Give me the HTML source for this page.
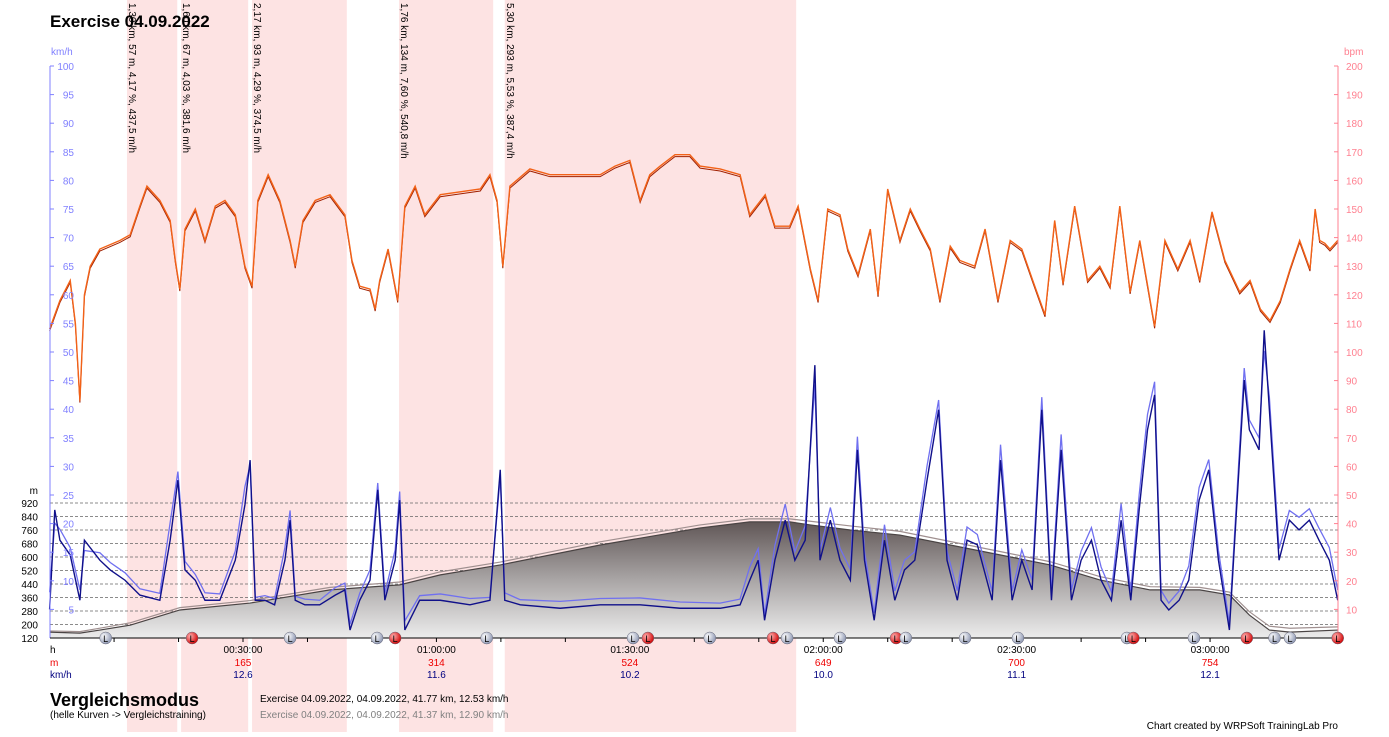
<!DOCTYPE html>
<html><head><meta charset="utf-8">
<style>
body{margin:0;background:#fff;font-family:"Liberation Sans",sans-serif;}
svg text{font-family:"Liberation Sans",sans-serif;}
</style></head>
<body>
<svg id="chart" width="1389" height="732" xmlns="http://www.w3.org/2000/svg">
<defs>
<linearGradient id="altg" x1="0" y1="520" x2="0" y2="638" gradientUnits="userSpaceOnUse">
<stop offset="0" stop-color="#5e5454"/><stop offset="0.5" stop-color="#a8a4a4"/><stop offset="1" stop-color="#ececec"/>
</linearGradient>
<radialGradient id="lapg" cx="0.35" cy="0.35" r="0.7"><stop offset="0" stop-color="#fff"/><stop offset="1" stop-color="#8a94b0"/></radialGradient>
<radialGradient id="lapr" cx="0.35" cy="0.35" r="0.7"><stop offset="0" stop-color="#ffb0b0"/><stop offset="1" stop-color="#d00000"/></radialGradient>
</defs>
<g id="bands"></g>
<g id="grid"></g>
<g id="alt"></g>
<g id="speed"></g>
<g id="hr"></g>
<g id="axes"></g>
<g id="laps"></g>
<g id="labels"></g>
<text x="50" y="27" font-size="17" font-weight="bold">Exercise 04.09.2022</text>
<text x="50" y="706" font-size="18" font-weight="bold">Vergleichsmodus</text>
<text x="50" y="718" font-size="10">(helle Kurven -&gt; Vergleichstraining)</text>
<text x="260" y="702" font-size="10">Exercise 04.09.2022,  04.09.2022, 41.77 km, 12.53 km/h</text>
<text x="260" y="718" font-size="10" fill="#808080">Exercise 04.09.2022,  04.09.2022, 41.37 km, 12.90 km/h</text>
<text x="1338" y="729" font-size="10" text-anchor="end">Chart created by WRPSoft TrainingLab Pro</text>
</svg>
<script>
// ---- data ----
const hrTime=[0,1.6,3.2,4.0,4.7,5.4,6.3,7.8,10.9,12.5,14,15.1,17.1,18.7,19.5,20.2,21,22.6,24.1,25.7,27.2,28.8,30.3,31.4,32.3,33.9,35.7,37.3,38.1,39.3,41.2,43.5,45.8,46.9,48.1,49.7,50.5,51.2,52.5,54,55.1,56.7,58.2,60.6,63.7,66.8,68.3,69.4,70.3,71.4,74.5,77.6,82.3,85.4,87.7,90,91.6,93.1,94.7,97,99.3,100.9,104,107.1,108.6,111,112.5,114.8,116.1,118,119.2,120.7,122.6,123.8,125.4,127.3,128.5,130,131.9,133.5,135,136.6,138.1,139.7,141.2,143.5,145.1,147.1,149,150.8,152.5,154.4,155.9,157.2,159,161,162.9,164.5,166,167.6,169.1,171.4,173,175,176.9,178.4,180.3,182.3,184.6,186.2,187.8,189.3,190.9,192.4,193.9,195.5,196.3,197,197.8,198.6,199.8];
const hrBpm=[108,118,125,110,83,120,130,136,139,141,151,158,153,146,132,122,143,150,139,151,153,148,130,123,153,162,153,139,130,146,153,155,148,132,123,122,115,125,136,118,151,158,148,155,156,157,162,153,130,158,164,162,162,162,165,167,153,162,165,169,169,165,164,162,148,155,144,144,151,129,118,150,148,136,127,143,120,157,139,150,143,136,118,137,132,130,143,118,139,136,125,113,146,124,151,125,130,123,151,121,139,109,139,129,139,125,149,132,121,125,115,111,118,129,139,129,150,139,138,136,139];
const spTime=[0,0.8,1.6,3.2,4.7,5.4,7.8,9.4,11.7,14,17.1,18.7,19.9,21,22.6,24.1,26.4,28.8,30.3,31.1,31.9,33.4,34.9,36.5,37.3,38.1,39.6,41.9,44.3,45.8,46.6,48.1,49.7,50.9,52,53.6,54.3,55.1,57.4,60.6,65.2,68.3,69.9,70.6,73,79.2,85.4,91.6,97.8,104,107.1,108.6,109.9,110.9,112.5,114.1,115.6,117.2,118.7,119.5,121.1,122.6,124.2,125.3,126.4,127.9,129.5,131.1,132.6,134.2,136.1,137.9,139.2,140.8,142.3,143.9,146.2,147.5,149.3,150.8,152.4,153.9,155.4,156.9,158.5,160,161.6,163.1,164.7,166.2,167.7,169,170.3,171.4,172.4,173.6,175.2,176.7,178.3,179.8,181.3,183,185.3,186.1,187.6,188.4,189.2,190.7,192.3,193.8,195.4,196.9,198.5,199.8];
const spKmh=[5,22.4,17.1,14.5,6.6,17.1,13.6,11.9,10.1,7.5,6.6,17.1,27.6,11.9,10.1,6.6,6.6,13.6,23.3,31.1,6.6,6.6,5.8,13.6,20.6,6.6,5.8,5.8,7.5,8.4,1.4,6.6,10.1,25.9,6.6,13.6,24.1,1.4,6.6,6.6,5.8,6.6,29.4,6.6,5.8,5.2,5.8,5.8,5.2,5.2,5.8,10.1,13.6,3.1,13.6,20.6,13.6,17.1,47.7,13.6,20.6,13.6,10.1,32.9,13.6,3.1,17.1,6.6,11.9,13.6,27.6,39.9,13.6,6.6,17.1,16.3,6.6,31.1,6.6,13.6,8.4,39.9,6.6,32.9,6.6,13.6,17.1,10.1,6.6,20.6,6.6,22.4,36.4,42.5,6.6,4.9,6.6,10.1,24.1,29.4,13.6,1.4,45.1,36.4,32.9,53.8,39.9,13.6,20.6,18.9,20.6,17.1,13.6,6.6];
const spCmpKmh=[8,20.1,19.0,15.8,8.4,15.3,14.9,13.2,11.4,8.6,7.8,20.2,29.1,13.4,11.1,7.9,7.7,15.2,26.5,30.2,7.1,7.4,6.9,15.8,22.3,7.3,6.8,6.6,8.8,9.6,2.4,7.8,11.9,27.1,7.8,15.4,25.6,3.0,7.4,7.7,6.9,7.1,28.2,7.9,6.7,6.4,6.9,7.0,6.3,6.1,6.8,12.4,15.6,4.1,16.2,23.4,15.1,19.6,44.3,15.3,22.8,15.7,12.0,35.2,15.1,4.4,19.8,8.2,13.6,15.1,30.1,41.6,15.2,8.3,19.4,18.1,8.1,33.8,8.2,15.4,10.1,42.1,8.0,35.6,8.4,15.2,19.3,12.4,8.1,23.5,8.2,25.0,39.1,44.8,8.3,6.1,8.2,12.6,26.3,31.2,15.3,2.6,47.2,38.1,35.0,50.2,42.1,15.6,22.3,21.1,22.6,19.2,15.8,8.4];
const altTime=[0,4.7,7.8,12.5,20.2,31.1,43.5,54.3,60.6,69.9,85.4,100.9,108.6,114.8,118,124.2,131.9,139.7,147.5,155.2,162.9,170.7,178.4,183,186.1,189.2,192.4,199.8];
const altM=[155,149,167,196,286,327,405,435,494,553,671,772,808,808,790,760,730,671,612,553,464,405,405,375,256,167,155,167];
const altCmpM=[162,158,178,210,300,342,420,452,512,570,690,790,826,826,812,784,752,692,632,572,484,424,420,392,276,190,178,186];
const altTicks=[120,200,280,360,440,520,600,680,760,840,920];
const kmhTicks=[5,10,15,20,25,30,35,40,45,50,55,60,65,70,75,80,85,90,95,100];
const bpmTicks=[10,20,30,40,50,60,70,80,90,100,110,120,130,140,150,160,170,180,190,200];
const timeTicks=[30,60,90,120,150,180];
const timeLabels=["00:30:00","01:00:00","01:30:00","02:00:00","02:30:00","03:00:00"];
const altAtTick=["165","314","524","649","700","754"];
const spdAtTick=["12.6","11.6","10.2","10.0","11.1","12.1"];
const bandStart=[12.0,20.4,31.4,54.2,70.6];
const bandEnd=[19.8,30.8,46.1,68.8,115.8];
const bandText=["1,30 km, 57 m, 4,17 %, 437,5 m/h","1,60 km, 67 m, 4,03 %, 381,6 m/h","2,17 km, 93 m, 4,29 %, 374,5 m/h","1,76 km, 134 m, 7,60 %, 540,8 m/h","5,30 km, 293 m, 5,53 %, 387,4 m/h"];
const lapTime=[8.7,22.1,37.3,50.8,53.6,67.8,90.5,92.8,102.4,112.2,114.4,122.6,131.3,132.8,142,150.2,167.1,168.1,177.5,185.7,190,192.4,199.8];
const lapRed=[0,1,0,0,1,0,0,1,0,1,0,0,1,0,0,0,0,1,0,1,0,0,1];
// ---- scales ----
const X0=49.6,XPM=6.447,YB=638;
const xs=t=>X0+t*XPM;
const yK=v=>YB-v*5.72;
const yB=v=>YB-v*2.86;
const yA=m=>YB-(m-120)*135/800;
const NS="http://www.w3.org/2000/svg";
function mk(tag,attrs,parent){const e=document.createElementNS(NS,tag);for(const k in attrs)e.setAttribute(k,attrs[k]);document.getElementById(parent).appendChild(e);return e;}
// bands
bandStart.forEach((s,i)=>{
 const r=mk('rect',{x:xs(s),y:0,width:xs(bandEnd[i])-xs(s),height:732,fill:'#fde3e3'},'bands');
 
 
 const tx=xs(s)+2;
 const t=mk('text',{x:tx,y:3,'font-size':10,transform:`rotate(90 ${tx} 3)`},'labels');
 t.textContent=bandText[i];
 
 
});
// grid
altTicks.forEach(m=>{
 if(m>120){const l=mk('line',{x1:50,x2:1338,y1:yA(m),y2:yA(m),stroke:'#666','stroke-dasharray':'3,2','stroke-width':0.7},'grid');
 
 }
 const t=mk('text',{x:38,y:yA(m)+4,'font-size':10,'text-anchor':'end'},'axes');t.textContent=m;
 
 
});
// altitude
let ap='M'+xs(altTime[0])+','+YB;altTime.forEach((t,i)=>ap+=' L'+xs(t)+','+yA(altM[i]));ap+=' L'+xs(altTime[altTime.length-1])+','+YB+' Z';
const af=mk('path',{d:ap,fill:'url(#altg)'},'alt');


const al=mk('polyline',{points:altTime.map((t,i)=>xs(t)+','+yA(altM[i])).join(' '),fill:'none',stroke:'#4a4444','stroke-width':1.2},'alt');


const ac=mk('polyline',{points:altTime.map((t,i)=>xs(t)+','+yA(altCmpM[i])).join(' '),fill:'none',stroke:'#a09090','stroke-width':1.2},'alt');


// speed
const sc=mk('polyline',{points:spTime.map((t,i)=>xs(t)+','+yK(spCmpKmh[i])).join(' '),fill:'none',stroke:'#7070f0','stroke-width':1.3},'speed');


const sp=mk('polyline',{points:spTime.map((t,i)=>xs(t)+','+yK(spKmh[i])).join(' '),fill:'none',stroke:'#10108a','stroke-width':1.4},'speed');


// hr
const hc=mk('polyline',{points:hrTime.map((t,i)=>xs(t)+','+(yB(hrBpm[i])+2)).join(' '),fill:'none',stroke:'#a02000','stroke-width':1},'hr');


const hl=mk('polyline',{points:hrTime.map((t,i)=>xs(t)+','+yB(hrBpm[i])).join(' '),fill:'none',stroke:'#f26218','stroke-width':1.4},'hr');


// axes
mk('line',{x1:50,x2:50,y1:66,y2:638,stroke:'#8080ff'},'axes');
mk('line',{x1:1338,x2:1338,y1:66,y2:638,stroke:'#ff8090'},'axes');
mk('line',{x1:50,x2:1338,y1:638,y2:638,stroke:'#000'},'axes');
kmhTicks.forEach(v=>{const t=mk('text',{x:74,y:yK(v)+4,'font-size':10,'text-anchor':'end',fill:'#8080ff'},'axes');t.textContent=v;
 
 
 mk('line',{x1:50,x2:54,y1:yK(v),y2:yK(v),stroke:'#8080ff'},'axes');});
bpmTicks.forEach(v=>{const t=mk('text',{x:1346,y:yB(v)+4,'font-size':10,fill:'#ff8090'},'axes');t.textContent=v;
 
 
 mk('line',{x1:1334,x2:1338,y1:yB(v),y2:yB(v),stroke:'#ff8090'},'axes');});
[['km/h',51,55,'#8080ff','start'],['bpm',1344,55,'#ff8090','start'],['m',38,494,'#000','end'],['h',50,653,'#000','start'],['m',50,666,'#e00','start'],['km/h',50,678,'#000080','start']].forEach(a=>{
 const t=mk('text',{x:a[1],y:a[2],'font-size':10,fill:a[3],'text-anchor':a[4]},'axes');t.textContent=a[0];
 
 });
for(let m=10;m<200;m+=10){mk('line',{x1:xs(m),x2:xs(m),y1:638,y2:642,stroke:'#000'},'axes');}
timeTicks.forEach((m,i)=>{
 const a=mk('text',{x:xs(m),y:653,'font-size':10,'text-anchor':'middle'},'axes');a.textContent=timeLabels[i];
 
 
 const b=mk('text',{x:xs(m),y:666,'font-size':10,'text-anchor':'middle',fill:'#e00'},'axes');b.textContent=altAtTick[i];
 
 
 const c=mk('text',{x:xs(m),y:678,'font-size':10,'text-anchor':'middle',fill:'#000080'},'axes');c.textContent=spdAtTick[i];
 
 
});
// laps
lapTime.forEach((t,i)=>{
 const g=document.createElementNS(NS,'g');document.getElementById('laps').appendChild(g);
 
 
 const c=document.createElementNS(NS,'circle');c.setAttribute('cx',xs(t));c.setAttribute('cy',638);c.setAttribute('r',6);c.setAttribute('fill',lapRed[i]?'url(#lapr)':'url(#lapg)');c.setAttribute('stroke','#667');c.setAttribute('stroke-width',0.5);g.appendChild(c);
 const l=document.createElementNS(NS,'text');l.setAttribute('x',xs(t));l.setAttribute('y',642);l.setAttribute('font-size',9);l.setAttribute('text-anchor','middle');l.textContent='L';g.appendChild(l);
});
</script>
</body></html>
